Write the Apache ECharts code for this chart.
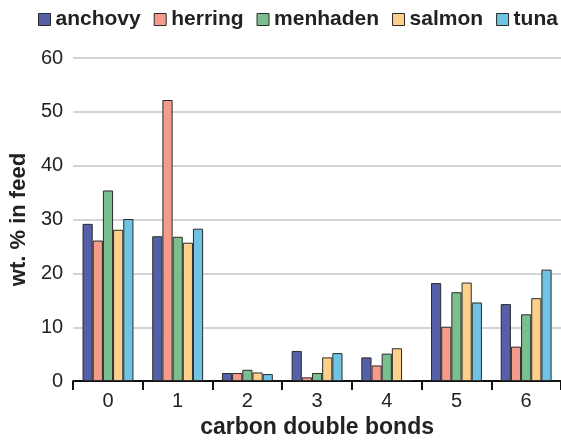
<!DOCTYPE html>
<html>
<head>
<meta charset="utf-8">
<script src="https://cdn.jsdelivr.net/npm/echarts@6/dist/echarts.min.js"></script>
<style>
  html, body { margin: 0; padding: 0; background: #fff; }
  #main { width: 561px; height: 444px; }
</style>
</head>
<body>
<div id="main"></div>
<script>
  // carbon double bonds
  var categories = ['0', '1', '2', '3', '4', '5', '6'];
  var yTicks = [0, 10, 20, 30, 40, 50, 60];

  // wt. % in feed, per fish oil
  var anchovy = [29.2, 26.9, 1.5, 5.6, 4.4, 18.2, 14.3];
  var herring = [26.1, 52.2, 1.5, 0.7, 2.9, 10.1, 6.4];
  var menhaden = [35.4, 26.8, 2.1, 1.5, 5.1, 16.5, 12.4];
  var salmon = [28.1, 25.7, 1.6, 4.4, 6.1, 18.3, 15.4];
  var tuna = [30.1, 28.3, 1.3, 5.2, 0.2, 14.6, 20.7];

  var names = ['anchovy', 'herring', 'menhaden', 'salmon', 'tuna'];
  var values = [anchovy, herring, menhaden, salmon, tuna];
  var colors = ['#5560a8', '#f49b8c', '#7cbf8f', '#fdd08c', '#6fc3e3'];

  var font = 'Liberation Sans, Arial, sans-serif';

  var myChart = echarts.init(document.getElementById('main'));

  var series = names.map(function (n, i) {
    return {
      name: n,
      type: 'bar',
      data: values[i],
      barGap: '0%',
      barCategoryGap: '27%',
      itemStyle: {
        color: colors[i],
        borderColor: '#2a2a2a',
        borderWidth: 1
      }
    };
  });

  myChart.setOption({
    animation: false,
    color: colors,
    legend: {
      top: 9,
      left: 38,
      padding: 0,
      itemWidth: 12,
      itemHeight: 12,
      itemGap: 13,
      icon: 'rect',
      textStyle: {
        fontFamily: font,
        fontWeight: 'bold',
        fontSize: 21,
        color: '#222'
      },
      itemStyle: {
        borderColor: '#2a2a2a',
        borderWidth: 1
      },
      data: names
    },
    grid: {
      left: 73,
      right: 0,
      top: 58,
      bottom: 55
    },
    xAxis: {
      type: 'category',
      data: categories,
      name: 'carbon double bonds',
      nameLocation: 'middle',
      nameGap: 31,
      nameTextStyle: {
        fontFamily: font,
        fontWeight: 'bold',
        fontSize: 23,
        color: '#222'
      },
      axisLine: { lineStyle: { color: '#111', width: 2 } },
      axisTick: { show: true, length: 9, lineStyle: { color: '#111', width: 2 } },
      axisLabel: {
        fontFamily: font,
        fontSize: 20,
        color: '#222',
        margin: 10
      }
    },
    yAxis: {
      type: 'value',
      min: yTicks[0],
      max: yTicks[yTicks.length - 1],
      interval: 10,
      name: 'wt. % in feed',
      nameLocation: 'middle',
      nameGap: 42,
      nameRotate: 90,
      nameTextStyle: {
        fontFamily: font,
        fontWeight: 'bold',
        fontSize: 22,
        color: '#222'
      },
      axisLine: { show: false },
      axisTick: { show: false },
      axisLabel: {
        fontFamily: font,
        fontSize: 20,
        color: '#222',
        margin: 10
      },
      splitLine: { lineStyle: { color: '#d4d4d8', width: 2 } }
    },
    series: series
  });
</script>
</body>
</html>
